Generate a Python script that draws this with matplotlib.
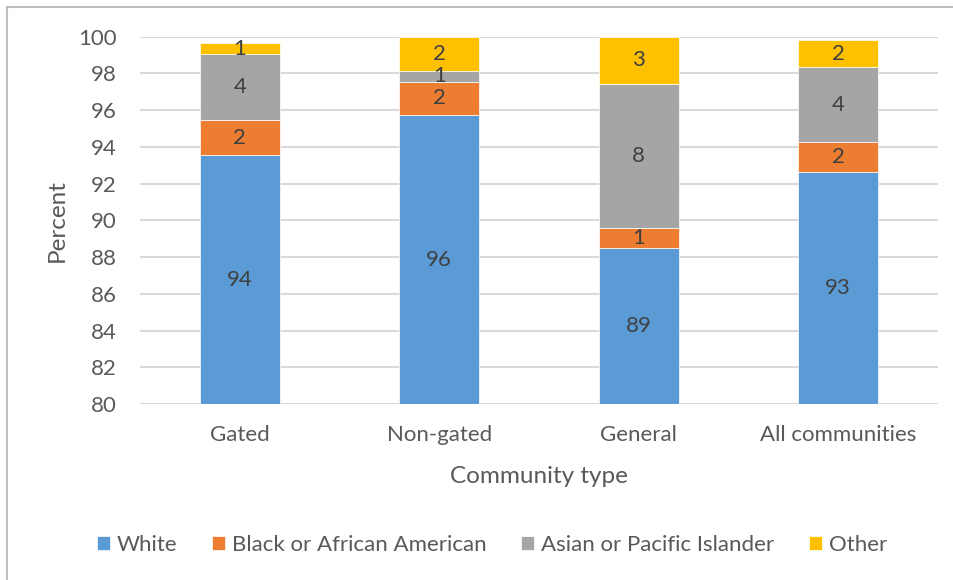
import numpy as np
import matplotlib.pyplot as plt
from matplotlib.patches import Rectangle

plt.rcParams['font.family'] = ['Lato', 'DejaVu Sans']

communities = ['Gated', 'Non-gated', 'General', 'All communities']
groups = ['White', 'Black or African American', 'Asian or Pacific Islander', 'Other']
white = [93.54, 95.72, 88.52, 92.61]
black = [1.94, 1.83, 1.04, 1.67]
asian = [3.56, 0.60, 7.85, 4.05]
other = [0.63, 1.85, 2.59, 1.51]

colors = ['#5B9BD5', '#ED7D31', '#A5A5A5', '#FFC000']
text_gray = '#595959'
label_gray = '#404040'

fig = plt.figure(figsize=(9.54, 5.8), dpi=100)
ax = fig.add_axes([140 / 954, 1 - 404 / 580, (938 - 140) / 954, (404 - 36.7) / 580])

# outer chart frame (runs off the right and bottom edges)
W, H = 954, 580
fig.patches.append(Rectangle((7 / W, -0.05), 1.1, 1 - 7 / H + 0.05,
                             transform=fig.transFigure, fill=False,
                             edgecolor='#bfbfbf', linewidth=1.5))

x = np.arange(len(communities))
bottom = np.zeros(len(communities))
for name, vals, c in zip(groups, [white, black, asian, other], colors):
    vals = np.array(vals)
    base = bottom.copy()
    ax.bar(x, vals, width=0.4, bottom=base, color=c, label=name,
           edgecolor='white', linewidth=0.5, zorder=3)
    # white segment label sits in the middle of the visible part (above 80)
    if name == 'White':
        centers = 80 + (vals - 80) / 2
    else:
        centers = base + vals / 2
    for xi, yc, v in zip(x, centers, vals):
        ax.text(xi, yc, f'{v:.0f}', ha='center', va='center',
                fontsize=16, color=label_gray, zorder=4)
    bottom = base + vals

ax.set_ylim(80, 100)
ax.set_xlim(-0.5, 3.5)
ax.set_yticks(np.arange(80, 101, 2))
ax.set_xticks(x)
ax.set_xticklabels(communities)
ax.grid(axis='y', color='#d9d9d9', linewidth=1.5, zorder=0)
ax.set_axisbelow(True)
for s in ax.spines.values():
    s.set_visible(False)
ax.tick_params(axis='both', length=0, labelsize=16, colors=text_gray)
ax.tick_params(axis='y', pad=17)
ax.tick_params(axis='x', pad=15)

ax.set_ylabel('Percent', fontsize=17.5, color=text_gray, labelpad=7)
ax.set_xlabel('Community type', fontsize=17.5, color=text_gray, labelpad=15)

ax.legend(loc='center', bbox_to_anchor=(0.5 + 15 / W, (580 - 545) / 580), bbox_transform=fig.transFigure,
          ncol=4, frameon=False, fontsize=16, labelcolor=text_gray,
          handlelength=0.6, handleheight=0.6, handletextpad=0.3, columnspacing=1.55)

fig.savefig('out.png', dpi=100, facecolor='white')
